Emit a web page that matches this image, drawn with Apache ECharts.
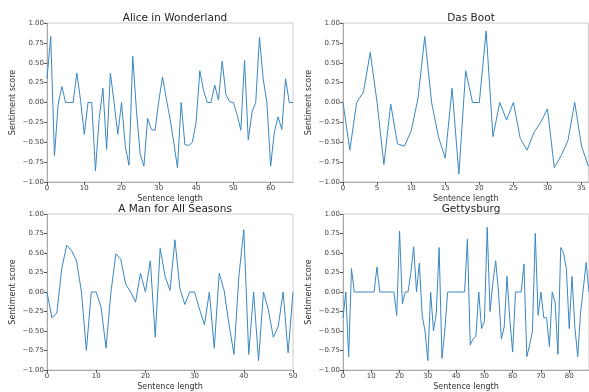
<!DOCTYPE html>
<html>
<head>
<meta charset="utf-8">
<script src="https://cdn.jsdelivr.net/npm/echarts@6/dist/echarts.min.js"></script>
<style>
  html, body { margin: 0; padding: 0; background: #fff; }
  #chart { width: 589px; height: 392px; }
</style>
</head>
<body>
<div id="chart"></div>
<script>
// sentiment score per sentence length, one array per text
const titles = ['Alice in Wonderland', 'Das Boot', 'A Man for All Seasons', 'Gettysburg'];

const alice = [0.3, 0.83, -0.67, -0.02, 0.2, 0, 0, 0, 0.37, 0.03, -0.4, 0, 0, -0.86, -0.2, 0.18,
  -0.59, 0.37, 0, -0.4, 0, -0.55, -0.79, 0.58, -0.1, -0.65, -0.8, -0.2, -0.34, -0.35, 0.02, 0.32,
  0.05, -0.2, -0.5, -0.82, 0, -0.53, -0.54, -0.5, -0.25, 0.4, 0.15, 0, 0, 0.22, 0.03, 0.52, 0.1,
  0.01, 0, -0.15, -0.35, 0.53, -0.47, -0.12, 0, 0.82, 0.3, 0, -0.8, -0.37, -0.18, -0.34, 0.3, 0, 0];

const dasBoot = [0, -0.6, 0, 0.13, 0.63, 0, -0.78, -0.02, -0.52, -0.55, -0.36, 0.05, 0.83, 0,
  -0.43, -0.7, 0.18, -0.9, 0.4, 0, 0, 0.9, -0.43, 0, -0.22, 0, -0.45, -0.6, -0.38, -0.25, -0.08,
  -0.82, -0.67, -0.48, 0, -0.55, -0.8];

const manForAll = [0, -0.33, -0.27, 0.3, 0.6, 0.53, 0.4, 0, -0.75, 0, 0, -0.2, -0.72, 0, 0.49,
  0.42, 0.1, 0, -0.13, 0.24, 0, 0.4, -0.58, 0.56, 0.2, 0.02, 0.67, 0.05, -0.16, 0, 0, -0.22, -0.42,
  0, -0.72, 0.24, 0.02, -0.42, -0.8, 0.2, 0.8, -0.8, 0, -0.88, 0, -0.23, -0.58, -0.44, 0, -0.78, 0];

const gettysburg = [-0.33, 0, -0.83, 0.3, 0, 0, 0, 0, 0, 0, 0, 0, 0.32, 0, 0, 0, 0, 0, 0, -0.3,
  0.78, -0.15, 0, 0, 0.25, 0.58, 0, 0.37, -0.3, -0.5, -0.88, 0, -0.5, -0.27, 0.57, -0.85, -0.5, 0,
  0, 0, 0, 0, 0, 0, 0.68, -0.68, -0.6, -0.57, 0, -0.47, -0.38, 0.83, -0.25, 0.12, 0.4, 0, -0.6,
  -0.45, 0.2, -0.35, -0.77, 0, 0, 0, 0.36, -0.83, -0.68, -0.5, 0.75, -0.3, 0, -0.33, -0.33, -0.7,
  0, -0.13, -0.8, 0.57, 0.5, 0.3, -0.47, 0.2, -0.45, -0.83, -0.27, 0.05, 0.38, 0];

const series = [alice, dasBoot, manForAll, gettysburg];
const xMax = [66, 36, 50, 87];
const xTicks = [
  [0, 10, 20, 30, 40, 50, 60],
  [0, 5, 10, 15, 20, 25, 30, 35],
  [0, 10, 20, 30, 40, 50],
  [0, 10, 20, 30, 40, 50, 60, 70, 80]
];
const yTicks = [-1, -0.75, -0.5, -0.25, 0, 0.25, 0.5, 0.75, 1];

const font = 'DejaVu Sans';
const boxes = [
  { left: 47, top: 23, width: 246, height: 159 },
  { left: 343, top: 23, width: 246, height: 159 },
  { left: 47, top: 214, width: 246, height: 159 },
  { left: 343, top: 214, width: 246, height: 159 }
];

const fmt = v => (v < 0 ? '\u2212' : '') + Math.abs(v).toFixed(2);

const option = {
  animation: false,
  backgroundColor: '#fff',
  title: titles.map((t, i) => ({
    text: t,
    left: boxes[i].left + boxes[i].width / 2,
    textAlign: 'center',
    top: boxes[i].top - 15,
    textStyle: { fontFamily: font, fontSize: 10.5, fontWeight: 'normal', color: '#222' }
  })),
  grid: boxes.map(b => ({ ...b, show: true, borderColor: '#ccc', borderWidth: 1, backgroundColor: 'transparent' })),
  xAxis: boxes.map((b, i) => ({
    type: 'value', gridIndex: i, min: 0, max: xMax[i],
    name: 'Sentence length', nameLocation: 'middle', nameGap: 13,
    nameTextStyle: { fontFamily: font, fontSize: 8, color: '#333' },
    splitLine: { show: false },
    axisLine: { show: true, onZero: false, lineStyle: { color: '#aaa', width: 1 } },
    axisTick: { show: true, length: 3, customValues: xTicks[i], lineStyle: { color: '#555' } },
    axisLabel: { customValues: xTicks[i], margin: 3, fontFamily: font, fontSize: 7, color: '#444' }
  })),
  yAxis: boxes.map((b, i) => ({
    type: 'value', gridIndex: i, min: -1, max: 1,
    name: 'Sentiment score', nameLocation: 'middle', nameGap: 30,
    nameTextStyle: { fontFamily: font, fontSize: 8, color: '#333' },
    splitLine: { show: false },
    axisLine: { show: true, onZero: false, lineStyle: { color: '#aaa', width: 1 } },
    axisTick: { show: true, length: 3, customValues: yTicks, lineStyle: { color: '#555' } },
    axisLabel: { customValues: yTicks, margin: 3, fontFamily: font, fontSize: 7, color: '#444', formatter: fmt }
  })),
  series: series.map((s, i) => ({
    type: 'line', xAxisIndex: i, yAxisIndex: i,
    data: s.map((v, j) => [j, v]),
    symbol: 'none',
    lineStyle: { color: '#3a87c0', width: 1 }
  }))
};

echarts.init(document.getElementById('chart')).setOption(option);
</script>
</body>
</html>
